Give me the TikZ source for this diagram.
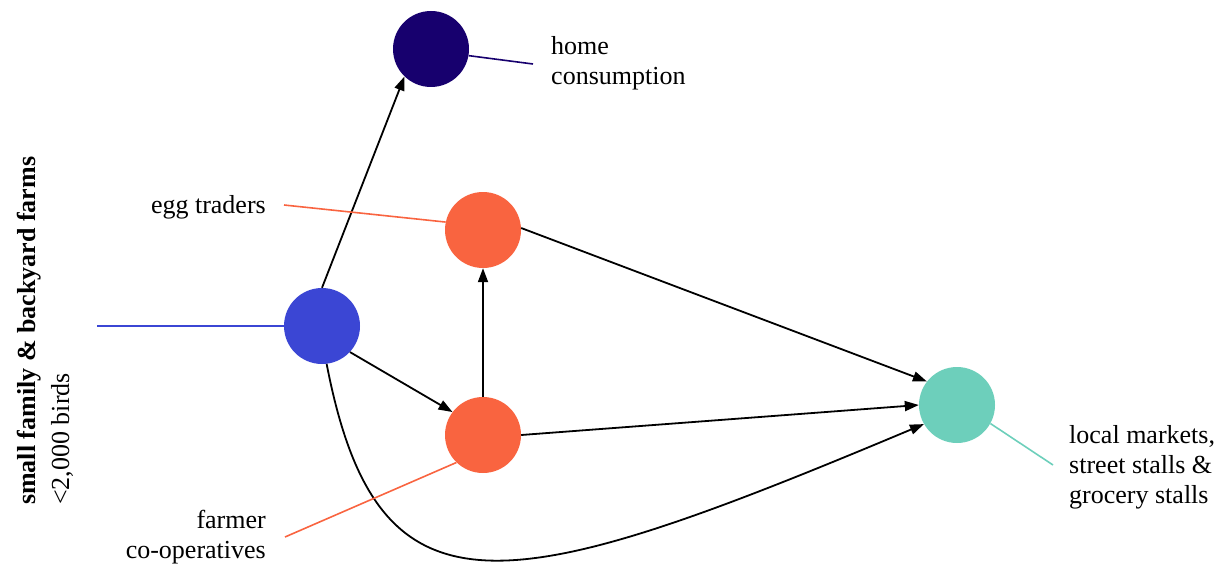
\documentclass[tikz,border=0pt]{standalone}
\usepackage{fontspec}
\setmainfont{Liberation Serif}
\usetikzlibrary{arrows.meta}
\definecolor{cfarm}  {HTML}{3B46D4}
\definecolor{chome}  {HTML}{17006E}
\definecolor{ctrade} {HTML}{F96440}
\definecolor{cmarket}{HTML}{6DCFBB}

\tikzset{
  actor/.style={circle, fill=#1, minimum size=76pt, inner sep=0pt},
  flow/.style={-{Triangle[length=14pt,width=10pt]}, line width=1.8pt},
  leader/.style={draw=#1, line width=1.6pt},
  lbl/.style={font=\fontsize{26}{30}\selectfont, inner sep=0pt}
}

\begin{document}
\begin{tikzpicture}[x=1pt, y=-1pt]
  \useasboundingbox (0,0) rectangle (1220,567);

  % actors along the egg chain
  \node[actor=cfarm]   (farm)   at (322,326) {};
  \node[actor=chome]   (home)   at (431,49)  {};
  \node[actor=ctrade]  (trader) at (483,230) {};
  \node[actor=ctrade]  (coop)   at (483,435) {};
  \node[actor=cmarket] (market) at (957,405) {};

  % flows
  \draw[flow] (farm.north) -- (home.-134);
  \draw[flow] (farm.-43) -- (coop.143);
  \draw[flow] (coop.north) -- (trader.south);
  \draw[flow] (trader.3) -- (market.142);
  \draw[flow] (coop.east) -- (market.west);
  \draw[flow] (farm.-83) .. controls (378,630) and (505,600) .. (market.210);

  % leader lines
  \coordinate (farmend)   at (97,326);
  \coordinate (homeend)   at (533,64);
  \coordinate (tradeend)  at (284,205);
  \coordinate (coopend)   at (285,537);
  \coordinate (marketend) at (1053,465);
  \draw[leader=cfarm]   (farmend) -- (farm.west);
  \draw[leader=chome]   (home.-10) -- (homeend);
  \draw[leader=ctrade]  (tradeend) -- (trader.168);
  \draw[leader=ctrade]  (coopend) -- (coop.-134);
  \draw[leader=cmarket] (market.-29) -- (marketend);

  % labels
  \node[lbl, anchor=west, align=left] (homelbl) at (551,63) {home\\consumption};
  \node[lbl, anchor=east] (tradelbl) at (266,207) {egg traders};
  \node[lbl, anchor=east, align=right] (cooplbl) at (266,537) {farmer\\co-operatives};
  \node[lbl, anchor=west, align=left] (marketlbl) at (1069,467) {local markets,\\street stalls \&\\grocery stalls};
  \node[lbl, rotate=90, anchor=west, align=left, font=\fontsize{26}{34}\selectfont]
    (farmlbl) at (45,505) {\textbf{small family \& backyard farms}\\<2,000 birds};
\end{tikzpicture}
\end{document}
